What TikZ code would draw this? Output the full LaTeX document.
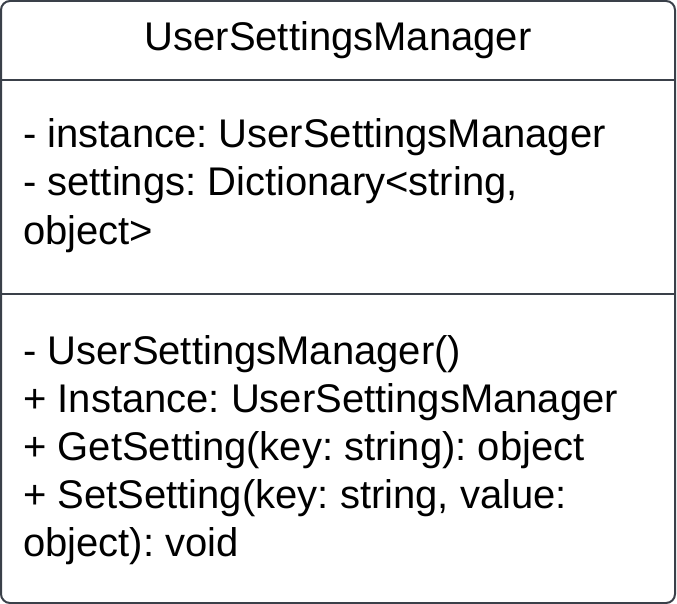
\documentclass[tikz,border=0pt]{standalone}
\usepackage{fontspec}
\setmainfont{Liberation Sans}
\usepackage{tikz}
\usetikzlibrary{positioning}
\usepackage{xcolor}
\definecolor{umlline}{HTML}{3A4049}
\frenchspacing

\begin{document}
\begin{tikzpicture}[x=1pt, y=-1pt,
    member/.style={anchor=base west, inner sep=0pt, font=\fontsize{40}{48}\selectfont}]
  \useasboundingbox (0,0) rectangle (677,604);
  % Class box with compartments
  \draw[line width=2pt, umlline, rounded corners=9pt] (1,1) rectangle (675,603);
  \draw[line width=2pt, umlline] (1,80) -- (675,80);
  \draw[line width=2pt, umlline] (1,294) -- (675,294);
  % Class name
  \node[member, anchor=base] (classname) at (338,51) {UserSettingsManager};
  % Attributes
  \node[member] (attrA) at (23,148) {- instance: UserSettingsManager};
  \node[member] (attrB) at (23,196) {- settings: Dictionary<string,};
  \node[member] (attrC) at (23,244) {object>};
  % Operations
  \node[member] (opA) at (23,364) {- UserSettingsManager()};
  \node[member] (opB) at (23,412) {+ Instance: UserSettingsManager};
  \node[member] (opC) at (23,460) {+ GetSetting(key: string): object};
  \node[member] (opD) at (23,508) {+ SetSetting(key: string, value:};
  \node[member] (opE) at (23,556) {object): void};
\end{tikzpicture}
\end{document}
